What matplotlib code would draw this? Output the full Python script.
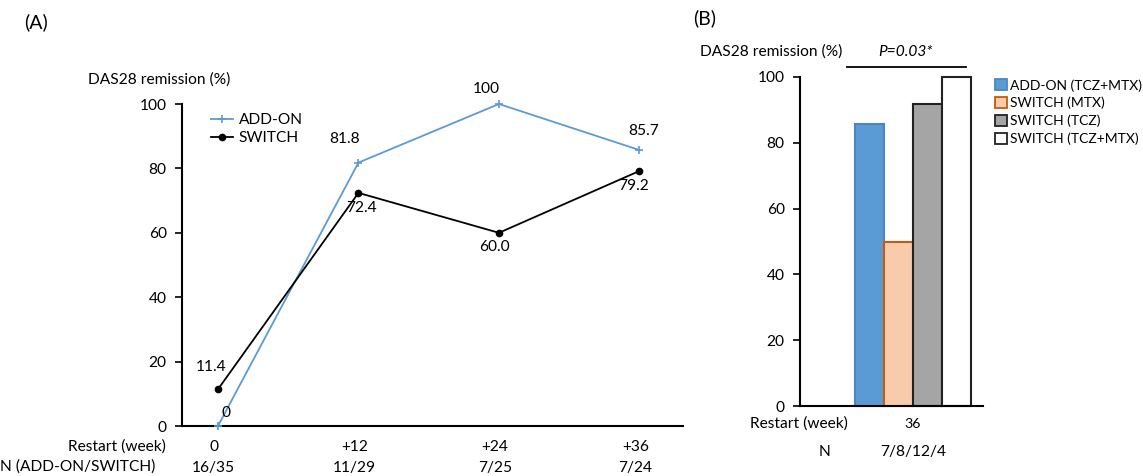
import matplotlib
matplotlib.use("Agg")
import matplotlib.pyplot as plt
from matplotlib.patches import Patch
from matplotlib.lines import Line2D

plt.rcParams['font.family'] = ['Lato', 'DejaVu Sans']

# ---- data panel A ----
weeks = ["0", "+12", "+24", "+36"]
n_labels = ["16/35", "11/29", "7/25", "7/24"]
addon = [0, 81.8, 100, 85.7]
switch = [11.4, 72.4, 60.0, 79.2]
addon_labels = ["0", "81.8", "100", "85.7"]
switch_labels = ["11.4", "72.4", "60.0", "79.2"]

# ---- data panel B ----
groups = ["ADD-ON (TCZ+MTX)", "SWITCH (MTX)", "SWITCH (TCZ)", "SWITCH (TCZ+MTX)"]
remission_b = [85.7, 50.0, 91.7, 100.0]
week_b = "36"
n_b = "7/8/12/4"

W, H = 1143, 476
fig = plt.figure(figsize=(W / 100, H / 100), dpi=100)

def fx(px):
    return px / W

def fy(py):
    return 1 - py / H

FS = 11.2

# ================= Panel A =================
axA = fig.add_axes([fx(182), fy(426), fx(683 - 182), (426 - 104) / H])
xs = list(range(len(weeks)))
blue = "#5B9BD5"
axA.plot(xs, addon, color=blue, lw=1.3, marker="+", ms=6, mew=1.2, clip_on=False, label="ADD-ON", zorder=3)
axA.plot(xs, switch, color="black", lw=1.3, marker="o", ms=4.5, clip_on=False, label="SWITCH", zorder=3)
axA.set_ylim(0, 100)
axA.set_xlim(-0.256, 3.31)
axA.set_yticks([0, 20, 40, 60, 80, 100])
axA.tick_params(axis="y", direction="out", length=5, width=1.2, labelsize=FS, pad=6)
axA.set_xticks([])
for s in ["top", "right"]:
    axA.spines[s].set_visible(False)
axA.spines["left"].set_linewidth(1.5)
axA.spines["bottom"].set_linewidth(1.5)

# data labels (offsets in points)
offA = [(6, 4), (-10, 12), (-9, 6), (3, 9)]
for i, (v, t) in enumerate(zip(addon, addon_labels)):
    axA.annotate(t, (i, v), xytext=offA[i], textcoords="offset points",
                 ha="center", va="bottom", fontsize=FS, annotation_clip=False)
offS = [(-5, 11), (2, -6), (-3, -5), (-4, -6)]
for i, (v, t) in enumerate(zip(switch, switch_labels)):
    va = "bottom" if offS[i][1] > 0 else "top"
    axA.annotate(t, (i, v), xytext=offS[i], textcoords="offset points",
                 ha="center", va=va, fontsize=FS, annotation_clip=False)

axA.legend(loc="upper left", bbox_to_anchor=(0.045, 0.99), frameon=False,
           fontsize=FS, handlelength=1.4, handletextpad=0.4, labelspacing=0.25,
           borderaxespad=0)

# row labels under axis A
for i, (w, n) in enumerate(zip(weeks, n_labels)):
    axA.annotate(w, (i, 0), xytext=(-3, -15), textcoords="offset points",
                 ha="center", va="center", fontsize=FS, annotation_clip=False)
    axA.annotate(n, (i, 0), xytext=(-3, -30), textcoords="offset points",
                 ha="center", va="center", fontsize=FS, annotation_clip=False)
fig.text(fx(166), fy(447), "Restart (week)", ha="right", va="center", fontsize=FS)
fig.text(fx(0), fy(467), "N (ADD-ON/SWITCH)", ha="left", va="center", fontsize=FS)
fig.text(fx(88), fy(80), "DAS28 remission (%)", ha="left", va="center", fontsize=FS)
fig.text(fx(24), fy(22), "(A)", ha="left", va="center", fontsize=14)

# ================= Panel B =================
axB = fig.add_axes([fx(800), fy(406), fx(983 - 800), (406 - 77) / H])
face = ["#5B9BD5", "#F8CBAD", "#A5A5A5", "white"]
edge = ["#4A86C5", "#C55A11", "#222222", "#222222"]
xb = list(range(len(groups)))
bars = axB.bar(xb, remission_b, width=1.0, color=face, edgecolor=edge, linewidth=1.5, zorder=2)
axB.set_ylim(0, 100)
axB.set_xlim(-2.40, 3.91)
axB.set_yticks([0, 20, 40, 60, 80, 100])
axB.tick_params(axis="y", direction="out", length=5, width=1.2, labelsize=FS, pad=6)
axB.set_xticks([])
for s in ["top", "right"]:
    axB.spines[s].set_visible(False)
axB.spines["left"].set_linewidth(1.5)
axB.spines["bottom"].set_linewidth(1.5)
for b in bars:
    b.set_clip_on(False)

handles = [Patch(facecolor=f, edgecolor=e, linewidth=1.3, label=g) for f, e, g in zip(face, edge, groups)]
fig.legend(handles=handles, loc="upper left", bbox_to_anchor=(fx(995), fy(79)),
           frameon=False, fontsize=10.0, handlelength=0.85, handleheight=0.85,
           handletextpad=0.25, labelspacing=0.38, borderaxespad=0, borderpad=0)

fig.text(fx(913), fy(424), week_b, ha="center", va="center", fontsize=FS - 1)
fig.text(fx(913), fy(452), n_b, ha="center", va="center", fontsize=FS)
fig.text(fx(848), fy(424), "Restart (week)", ha="right", va="center", fontsize=FS)
fig.text(fx(825), fy(452), "N", ha="center", va="center", fontsize=FS)
fig.text(fx(700), fy(52), "DAS28 remission (%)", ha="left", va="center", fontsize=FS)
fig.text(fx(905), fy(52), "P=0.03*", ha="center", va="center", fontsize=FS, style="italic")
fig.add_artist(Line2D([fx(847), fx(966)], [fy(67), fy(67)], color="black", lw=1.3))
fig.text(fx(693), fy(18), "(B)", ha="left", va="center", fontsize=14)

fig.savefig("out.png", dpi=100)
